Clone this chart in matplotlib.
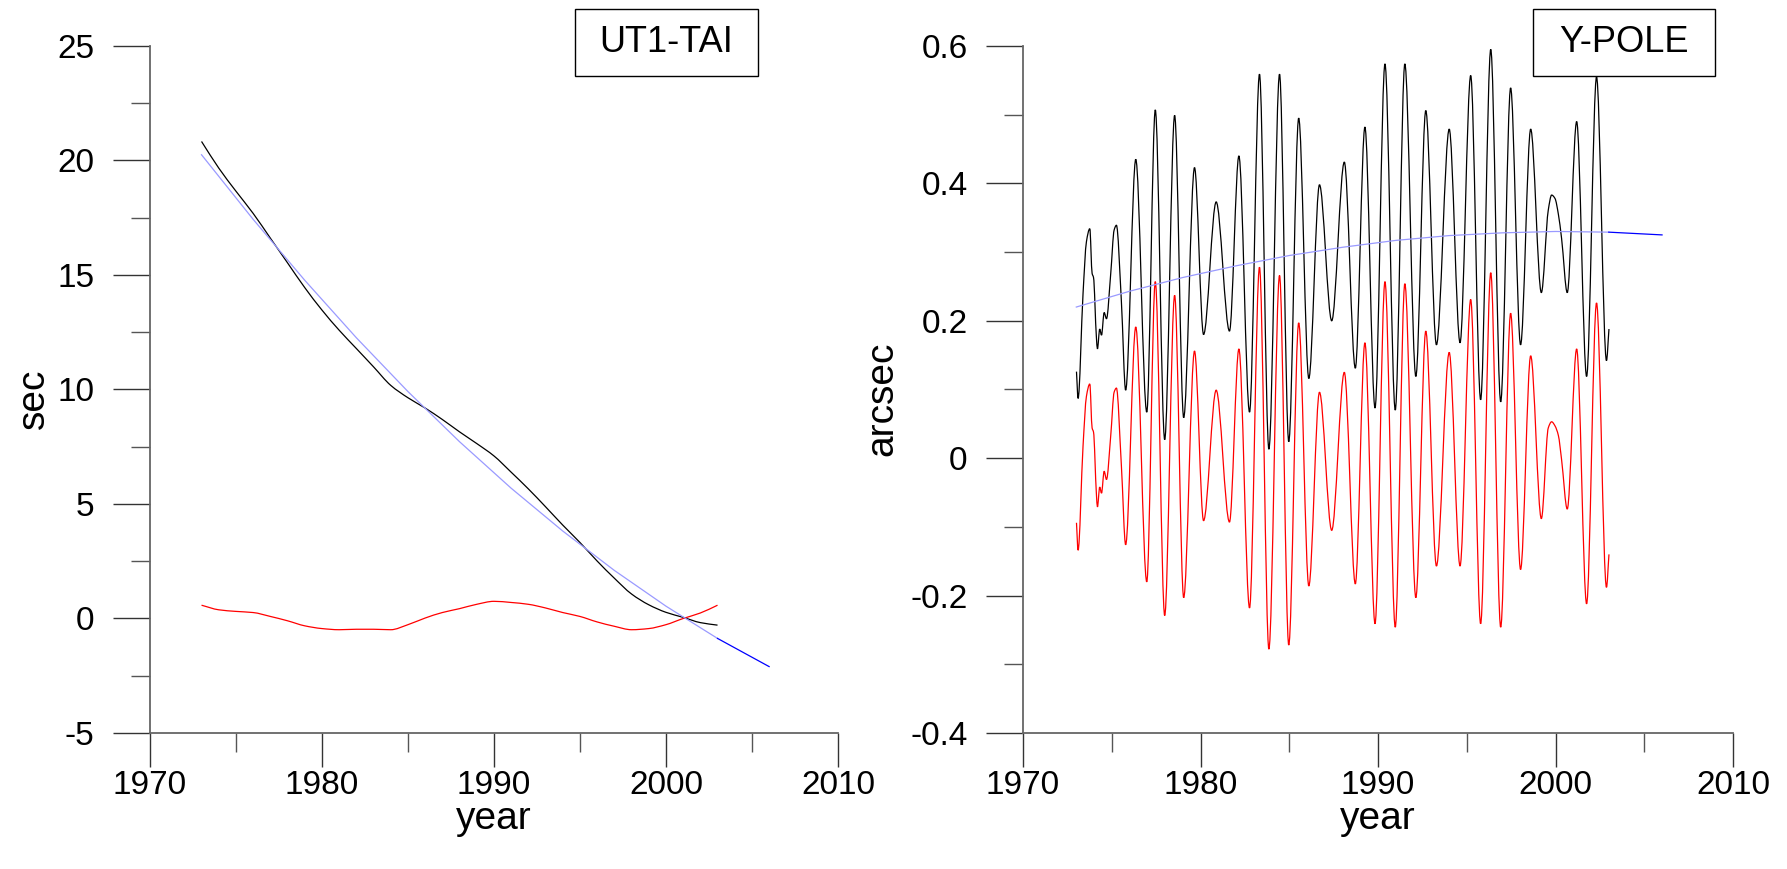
import numpy as np
import matplotlib
matplotlib.use("Agg")
import matplotlib.pyplot as plt
from matplotlib.patches import Rectangle, PathPatch
from matplotlib.path import Path
from matplotlib.ticker import MultipleLocator

plt.rcParams['font.family'] = ['Liberation Sans', 'DejaVu Sans']

# UT1-TAI (sec): observed series, residual and fitted trend
ut1_year = [1973, 1974, 1975, 1976, 1977, 1978, 1979, 1980, 1981, 1982,
            1983, 1984, 1985, 1986, 1987, 1988, 1989, 1990, 1991, 1992,
            1993, 1994, 1995, 1996, 1997, 1998, 1999, 2000, 2001, 2002, 2003]
ut1_obs = [20.83, 19.67, 18.66, 17.69, 16.61, 15.53, 14.45, 13.47, 12.59, 11.79,
           10.99, 10.18, 9.64, 9.19, 8.69, 8.15, 7.64, 7.10, 6.39, 5.66,
           4.88, 4.08, 3.32, 2.51, 1.76, 1.07, 0.60, 0.27, 0.05, -0.18, -0.29]
ut1_resid = [0.58, 0.38, 0.31, 0.26, 0.09, -0.10, -0.32, -0.44, -0.49, -0.47,
             -0.47, -0.49, -0.27, 0.02, 0.26, 0.43, 0.62, 0.75, 0.70, 0.62,
             0.46, 0.26, 0.09, -0.15, -0.34, -0.49, -0.44, -0.27, 0.00, 0.24, 0.58]
ut1_trend_year = [1973, 1976, 1979, 1982, 1985, 1988, 1991, 1994, 1997, 2000, 2003, 2006]
ut1_trend = [20.25, 17.43, 14.77, 12.26, 9.91, 7.72, 5.69, 3.82, 2.10, 0.54, -0.87, -2.10]

# Y-POLE (arcsec): observed series, residual and fitted trend
yp_year = [1973.01, 1973.10, 1973.38, 1973.57, 1973.76, 1973.89, 1973.97, 1974.13, 1974.19, 1974.32,
           1974.42, 1974.57, 1974.70, 1974.94, 1975.13, 1975.26, 1975.54, 1975.78, 1976.35, 1976.97,
           1977.45, 1977.98, 1978.54, 1979.05, 1979.66, 1980.17, 1980.88, 1981.63, 1982.16, 1982.76,
           1983.32, 1983.85, 1984.45, 1984.97, 1985.53, 1986.10, 1986.70, 1987.39, 1988.10, 1988.72,
           1989.26, 1989.83, 1990.39, 1990.97, 1991.51, 1992.13, 1992.69, 1993.29, 1994.01, 1994.62,
           1995.22, 1995.78, 1996.35, 1996.91, 1997.47, 1998.03, 1998.60, 1999.20, 1999.59, 1999.78,
           1999.97, 2000.16, 2000.34, 2000.66, 2001.19, 2001.75, 2002.31, 2002.87, 2003.01]
yp_obs = [0.126, 0.087, 0.240, 0.315, 0.334, 0.269, 0.263, 0.177, 0.159, 0.188,
          0.179, 0.212, 0.203, 0.269, 0.332, 0.339, 0.228, 0.099, 0.435, 0.067,
          0.507, 0.027, 0.499, 0.059, 0.423, 0.180, 0.373, 0.185, 0.440, 0.067,
          0.559, 0.013, 0.559, 0.024, 0.495, 0.116, 0.398, 0.200, 0.431, 0.131,
          0.482, 0.073, 0.574, 0.070, 0.574, 0.119, 0.506, 0.165, 0.479, 0.168,
          0.557, 0.085, 0.595, 0.082, 0.539, 0.165, 0.479, 0.241, 0.361, 0.383,
          0.378, 0.355, 0.320, 0.241, 0.490, 0.119, 0.555, 0.142, 0.188]
yp_resid = [-0.094, -0.134, 0.018, 0.090, 0.108, 0.044, 0.038, -0.051, -0.071, -0.042,
            -0.051, -0.019, -0.031, 0.033, 0.096, 0.102, -0.011, -0.126, 0.191, -0.180,
            0.257, -0.229, 0.237, -0.203, 0.156, -0.091, 0.099, -0.093, 0.159, -0.218,
            0.278, -0.278, 0.266, -0.272, 0.197, -0.186, 0.096, -0.105, 0.125, -0.183,
            0.168, -0.241, 0.257, -0.246, 0.254, -0.203, 0.185, -0.157, 0.154, -0.157,
            0.231, -0.241, 0.270, -0.246, 0.211, -0.162, 0.149, -0.088, 0.044, 0.053,
            0.047, 0.033, -0.002, -0.074, 0.159, -0.212, 0.226, -0.188, -0.140]
yp_trend_year = [1973, 1976, 1979, 1982, 1985, 1988, 1991, 1994, 1997, 2000, 2003, 2006]
yp_trend = [0.220, 0.243, 0.263, 0.280, 0.295, 0.307, 0.317, 0.324, 0.328, 0.330, 0.329, 0.325]

LAST_OBS = 2003  # trend after this year is the extrapolated part


def smooth_line(ax, x, y, color, lw=0.9):
    """Draw a smooth (monotone cubic) curve through the given points."""
    x = np.asarray(x, float)
    y = np.asarray(y, float)
    h = np.diff(x)
    d = np.diff(y) / h
    m = np.zeros_like(y)
    for i in range(1, len(y) - 1):
        if d[i - 1] * d[i] > 0:
            w1 = 2 * h[i] + h[i - 1]
            w2 = h[i] + 2 * h[i - 1]
            m[i] = (w1 + w2) / (w1 / d[i - 1] + w2 / d[i])
    m[0], m[-1] = d[0], d[-1]
    verts = [(x[0], y[0])]
    codes = [Path.MOVETO]
    for i in range(len(x) - 1):
        verts += [(x[i] + h[i] / 3, y[i] + m[i] * h[i] / 3),
                  (x[i + 1] - h[i] / 3, y[i + 1] - m[i + 1] * h[i] / 3),
                  (x[i + 1], y[i + 1])]
        codes += [Path.CURVE4] * 3
    ax.add_patch(PathPatch(Path(verts, codes), fill=False, edgecolor=color, lw=lw))


def style_axes(ax, ylim, ymajor, yfmt):
    ax.set_xlim(1970, 2010)
    ax.set_ylim(*ylim)
    ax.xaxis.set_major_locator(MultipleLocator(10))
    ax.xaxis.set_minor_locator(MultipleLocator(5))
    ax.yaxis.set_major_locator(MultipleLocator(ymajor))
    ax.yaxis.set_minor_locator(MultipleLocator(ymajor / 2))
    ax.yaxis.set_major_formatter(yfmt)
    for side in ('top', 'right'):
        ax.spines[side].set_visible(False)
    for side in ('left', 'bottom'):
        ax.spines[side].set_color('#666666')
        ax.spines[side].set_linewidth(1.3)
    ax.tick_params(which='both', direction='out', width=1.0, labelsize=24)
    ax.tick_params(which='major', color='#333333')
    ax.tick_params(which='minor', color='#555555', length=13.7)
    ax.tick_params(axis='y', which='major', length=27, pad=13)
    ax.tick_params(axis='x', which='major', length=24.5, pad=2)


def draw_trend(ax, years, vals):
    years = np.asarray(years)
    vals = np.asarray(vals)
    fit = years <= LAST_OBS
    ext = years >= LAST_OBS
    ax.plot(years[fit], vals[fit], color='#9a9aff', lw=0.9)
    ax.plot(years[ext], vals[ext], color='#0000ff', lw=0.9)


def title_box(fig, x0, x1, text):
    y0, y1 = 0.9125, 0.9896
    fig.patches.append(Rectangle((x0, y0), x1 - x0, y1 - y0, transform=fig.transFigure,
                                 fill=False, edgecolor='black', lw=1.0))
    fig.text((x0 + x1) / 2, (y0 + y1) / 2, text, ha='center', va='center', fontsize=26)


def pole_fmt(v, pos):
    if abs(v) < 1e-9:
        return '0'
    return f'{v:.1f}'


fig = plt.figure(figsize=(17.87, 8.69), dpi=100)
ax1 = fig.add_axes([0.0839, 0.1565, 0.3850, 0.7906])
ax2 = fig.add_axes([0.5725, 0.1565, 0.3973, 0.7906])

# left: UT1-TAI
draw_trend(ax1, ut1_trend_year, ut1_trend)
smooth_line(ax1, ut1_year, ut1_obs, 'black')
smooth_line(ax1, ut1_year, ut1_resid, '#ff0000')
style_axes(ax1, (-5, 25), 5, plt.FuncFormatter(lambda v, p: f'{v:g}'))

# right: Y-POLE
draw_trend(ax2, yp_trend_year, yp_trend)
smooth_line(ax2, yp_year, yp_obs, 'black')
smooth_line(ax2, yp_year, yp_resid, '#ff0000')
style_axes(ax2, (-0.4, 0.6), 0.2, plt.FuncFormatter(pole_fmt))

title_box(fig, 0.3218, 0.4242, 'UT1-TAI')
title_box(fig, 0.8579, 0.9597, 'Y-POLE')

fig.text(0.019, 0.541, 'sec', rotation=90, ha='center', va='center', fontsize=28)
fig.text(0.494, 0.541, 'arcsec', rotation=90, ha='center', va='center', fontsize=28)
fig.text(0.2765, 0.058, 'year', ha='center', va='center', fontsize=28)
fig.text(0.7710, 0.058, 'year', ha='center', va='center', fontsize=28)

fig.savefig('out.png', dpi=100)
